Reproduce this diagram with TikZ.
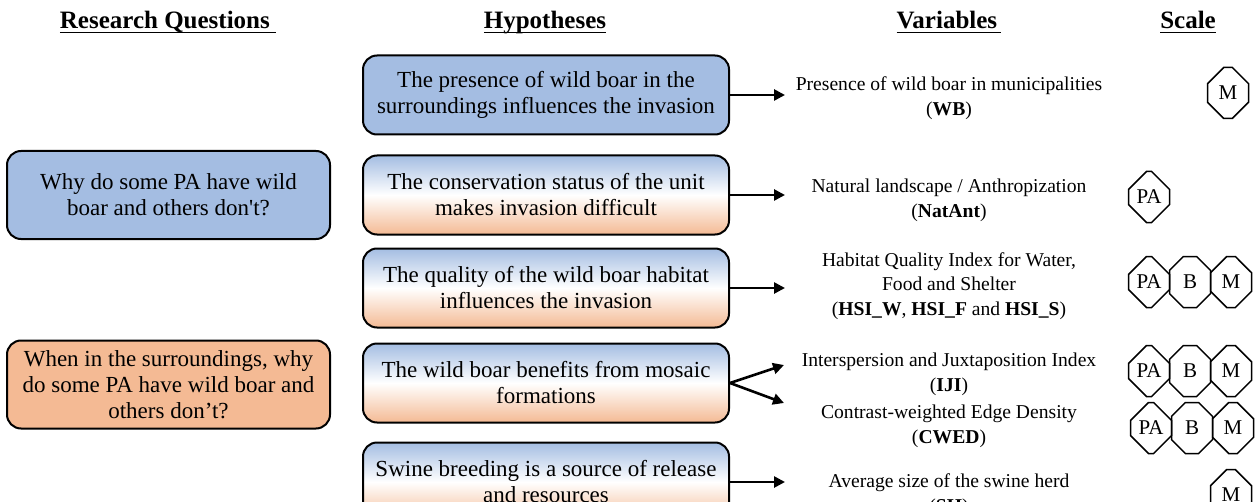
\documentclass[tikz,border=0pt]{standalone}
\usepackage{fontspec}
\setmainfont{Liberation Serif}
\usetikzlibrary{arrows.meta,shapes.misc}
\definecolor{qblue}{HTML}{A4BDE2}
\definecolor{qorange}{HTML}{F4BA94}
\newcommand\headline[1]{\underline{\smash{#1}\vphantom{S}}}
\newcommand\straightq{\XeTeXglyph\XeTeXcharglyph"27\relax}

\begin{document}
\begin{tikzpicture}[x=0.5pt,y=-0.5pt,
  head/.style={anchor=base,font=\fontsize{12.5}{15}\selectfont\bfseries},
  question/.style={draw,line width=1pt,rounded corners=7pt,minimum width=161.5pt,minimum height=44pt,align=center,font=\fontsize{11.5}{13}\selectfont},
  hypo/.style={draw,line width=1pt,rounded corners=7pt,minimum width=183pt,minimum height=39.5pt,align=center,font=\fontsize{11.5}{13}\selectfont},
  mixed/.style={top color=qblue,bottom color=qorange,middle color=white},
  var/.style={align=center,font=\fontsize{9.8}{12.3}\selectfont},
  octa/.style={draw,chamfered rectangle,chamfered rectangle sep=5.5pt,line width=0.75pt,minimum width=20.5pt,minimum height=25.5pt,inner sep=0pt,font=\fontsize{10.5}{12}\selectfont},
  link/.style={line width=1.3pt,-{Triangle[length=5.5pt,width=5.5pt]}}]
\path[use as bounding box,clip] (0,0) rectangle (1256,502);

\node[head] (trq) at (168,29) {\headline{Research Questions\ }};
\node[head] (thy) at (545,29) {\headline{Hypotheses}};
\node[head] (tva) at (949,29) {\headline{Variables\,}};
\node[head] (tsc) at (1188,29) {\headline{Scale}};

\node[question,fill=qblue] (q1) at (168.5,195) {Why do some PA have wild\\ boar and others don\straightq t?};
\node[question,fill=qorange] (q2) at (168.5,384.5) {When in the surroundings, why\\ do some PA have wild boar and\\ others don’t?};

\node[hypo,fill=qblue] (h1) at (546,95) {The presence of wild boar in the\\ surroundings influences the invasion};
\node[hypo,mixed] (h2) at (546,195) {The conservation status of the unit\\ makes invasion difficult};
\node[hypo,mixed] (h3) at (546,288) {The quality of the wild boar habitat\\ influences the invasion};
\node[hypo,mixed] (h4) at (546,383) {The wild boar benefits from mosaic\\ formations};
\node[hypo,mixed] (h5) at (546,482) {Swine breeding is a source of release\\ and resources};

\node[var] (v1) at (949,98) {Presence of wild boar in municipalities\\ (\textbf{WB})};
\node[var] (v2) at (949,200) {Natural landscape / Anthropization\\ (\textbf{NatAnt})};
\node[var] (v3) at (949,286) {Habitat Quality Index for Water,\\ Food and Shelter\\ (\textbf{HSI\_W}, \textbf{HSI\_F} and \textbf{HSI\_S})};
\node[var] (v4) at (949,374) {Interspersion and Juxtaposition Index\\ (\textbf{IJI})};
\node[var] (v5) at (949,426) {Contrast-weighted Edge Density\\ (\textbf{CWED})};
\node[var] (v6) at (949,495) {Average size of the swine herd\\ (\textbf{SH})};

\coordinate (a1) at (785,95);
\coordinate (a2) at (785,195);
\coordinate (a3) at (785,288);
\coordinate (a4) at (784,365);
\coordinate (a5) at (784,403);
\coordinate (a6) at (785,482);
\draw[link] (h1) -- (a1);
\draw[link] (h2) -- (a2);
\draw[link] (h3) -- (a3);
\draw[link] (h4.east) -- (a4);
\draw[link] (h4.east) -- (a5);
\draw[link] (h5) -- (a6);

\node[octa] (s1) at (1228,93) {M};
\node[octa] (s2) at (1149,197) {PA};
\node[octa] (s3a) at (1149,282) {PA};
\node[octa] (s3b) at (1190,282) {B};
\node[octa] (s3c) at (1231,282) {M};
\node[octa] (s4a) at (1149,371) {PA};
\node[octa] (s4b) at (1190,371) {B};
\node[octa] (s4c) at (1231,371) {M};
\node[octa] (s5a) at (1151,428) {PA};
\node[octa] (s5b) at (1192,428) {B};
\node[octa] (s5c) at (1233,428) {M};
\node[octa] (s6) at (1231,495) {M};
\end{tikzpicture}
\end{document}
